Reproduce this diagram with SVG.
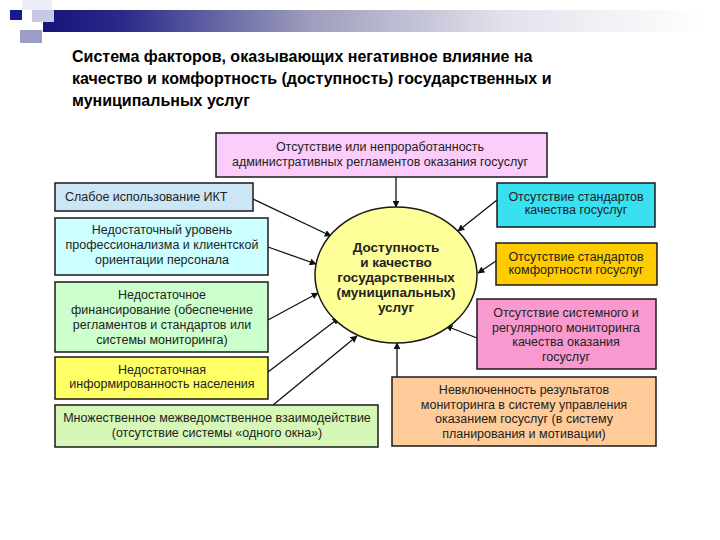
<svg xmlns="http://www.w3.org/2000/svg" width="720" height="540" viewBox="0 0 720 540">
<defs>
<linearGradient id="bar" x1="0" y1="0" x2="1" y2="0">
<stop offset="0" stop-color="#14147a"/>
<stop offset="0.12" stop-color="#2a2a8a"/>
<stop offset="0.4" stop-color="#9c9cbc"/>
<stop offset="0.7" stop-color="#e2e2ec"/>
<stop offset="1" stop-color="#ffffff"/>
</linearGradient>
<marker id="ah" viewBox="0 0 10 10" refX="9" refY="5" markerWidth="7" markerHeight="7" markerUnits="userSpaceOnUse" orient="auto">
<path d="M0,0 L10,5 L0,10 z" fill="#111"/>
</marker>
<style>
.box{stroke:#1a1a1a;stroke-width:1.5}
.t{font-family:"Liberation Sans",Arial,sans-serif;font-size:12.5px;fill:#222;text-anchor:middle}
.tl{text-anchor:start}
.c{font-family:"Liberation Sans",Arial,sans-serif;font-size:13.5px;font-weight:bold;fill:#222;text-anchor:middle}
.title{font-family:"Liberation Sans",Arial,sans-serif;font-size:16px;font-weight:bold;fill:#000}
.conn line{stroke:#111;stroke-width:1.3;marker-end:url(#ah)}
</style>
</defs>
<rect width="720" height="540" fill="#ffffff"/>
<g id="decor">
<rect x="43" y="10" width="660" height="22" fill="url(#bar)"/>
<rect x="22" y="0" width="30" height="10" fill="#eeeef8"/>
<rect x="32" y="10" width="22" height="12" fill="#c8c8e4"/>
<rect x="20" y="30" width="22" height="13" fill="#9c9cc8"/>
<rect x="10" y="10" width="12" height="10" fill="#1a1a90"/>
</g>
<g id="title">
<text class="title" x="72" y="62">Система факторов, оказывающих негативное влияние на</text>
<text class="title" x="72" y="84">качество и комфортность (доступность) государственных и</text>
<text class="title" x="72" y="106">муниципальных услуг</text>
</g>
<g class="conn" id="connectors">
<line x1="396" y1="177" x2="396" y2="207"/>
<line x1="253" y1="199" x2="331" y2="236"/>
<line x1="268" y1="247" x2="316" y2="264"/>
<line x1="268" y1="320" x2="318" y2="293"/>
<line x1="268" y1="372" x2="339" y2="318"/>
<line x1="273" y1="405" x2="357" y2="336"/>
<line x1="497" y1="200" x2="458" y2="231"/>
<line x1="496" y1="261" x2="478" y2="273"/>
<line x1="477" y1="338" x2="446" y2="326"/>
<line x1="397" y1="377" x2="397" y2="343"/>
</g>
<g id="center">
<ellipse cx="396" cy="275" rx="81" ry="68" fill="#ffff99" class="box"/>
<text class="c" x="396" y="252">Доступность</text>
<text class="c" x="396" y="267">и качество</text>
<text class="c" x="396" y="282">государственных</text>
<text class="c" x="396" y="297">(муниципальных)</text>
<text class="c" x="396" y="312">услуг</text>
</g>
<g id="top">
<rect x="216" y="133" width="331" height="44" fill="#fccdfa" class="box"/>
<text class="t" x="380" y="151">Отсутствие или непроработанность</text>
<text class="t" x="380" y="166">административных регламентов оказания госуслуг</text>
</g>
<g id="ikt">
<rect x="55" y="183" width="198" height="28" fill="#cce6f6" class="box"/>
<text class="t tl" x="65" y="201">Слабое использование ИКТ</text>
</g>
<g id="prof">
<rect x="55" y="218" width="213" height="57" fill="#ccffff" class="box"/>
<text class="t" x="162" y="234">Недостаточный уровень</text>
<text class="t" x="162" y="249">профессионализма и клиентской</text>
<text class="t" x="162" y="264">ориентации персонала</text>
</g>
<g id="fin">
<rect x="55" y="282" width="213" height="70" fill="#ccffcc" class="box"/>
<text class="t" x="162" y="299">Недостаточное</text>
<text class="t" x="162" y="314">финансирование (обеспечение</text>
<text class="t" x="162" y="329">регламентов и стандартов или</text>
<text class="t" x="162" y="344">системы мониторинга)</text>
</g>
<g id="inform">
<rect x="55" y="357" width="213" height="42" fill="#ffff66" class="box"/>
<text class="t" x="162" y="374">Недостаточная</text>
<text class="t" x="162" y="388">информированность населения</text>
</g>
<g id="mezh">
<rect x="55" y="405" width="323" height="42" fill="#d6f7b5" class="box"/>
<text class="t" x="217" y="422">Множественное межведомственное взаимодействие</text>
<text class="t" x="217" y="437">(отсутствие системы «одного окна»)</text>
</g>
<g id="stdq">
<rect x="497" y="183" width="158" height="44" fill="#38e0f0" class="box"/>
<text class="t" x="576" y="201">Отсутствие стандартов</text>
<text class="t" x="576" y="214">качества госуслуг</text>
</g>
<g id="stdk">
<rect x="496" y="243" width="161" height="42" fill="#ffcc00" class="box"/>
<text class="t" x="576" y="261">Отсутствие стандартов</text>
<text class="t" x="576" y="274">комфортности госуслуг</text>
</g>
<g id="monit">
<rect x="477" y="299" width="179" height="70" fill="#f899d0" class="box"/>
<text class="t" x="566" y="317">Отсутствие системного и</text>
<text class="t" x="566" y="332">регулярного мониторинга</text>
<text class="t" x="566" y="346">качества оказания</text>
<text class="t" x="566" y="361">госуслуг</text>
</g>
<g id="nevkl">
<rect x="392" y="377" width="264" height="69" fill="#ffcc99" class="box"/>
<text class="t" x="524" y="394">Невключенность результатов</text>
<text class="t" x="524" y="409">мониторинга в систему управления</text>
<text class="t" x="524" y="423">оказанием госуслуг (в систему</text>
<text class="t" x="524" y="438">планирования и мотивации)</text>
</g>
</svg>
